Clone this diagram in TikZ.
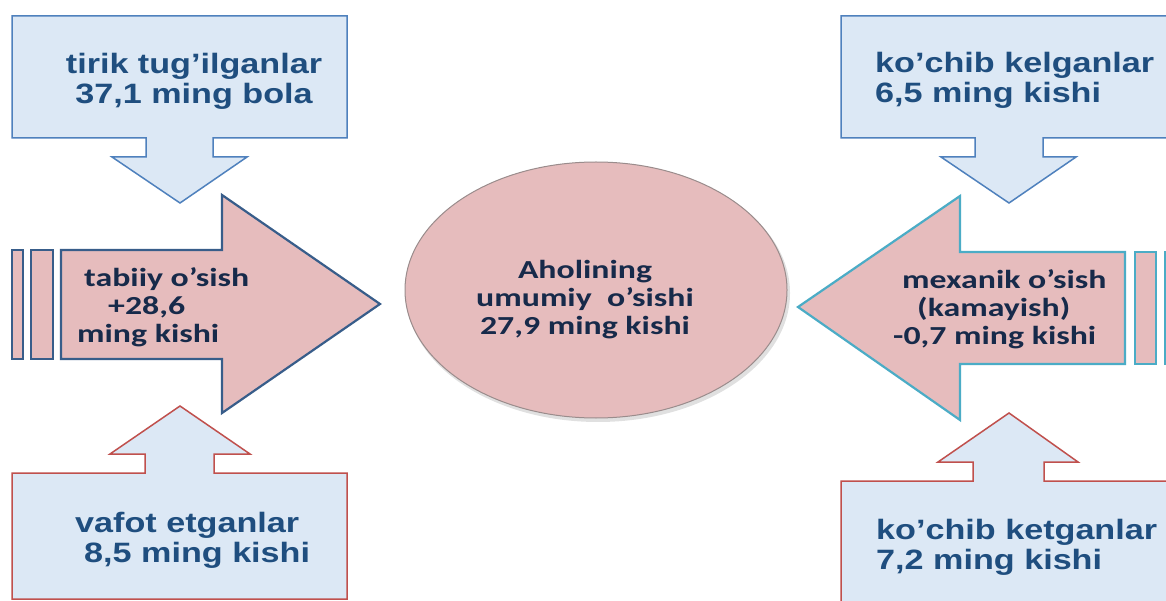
\documentclass[tikz,border=0pt]{standalone}
\usepackage{fontspec}
\setmainfont{Liberation Sans}
\newfontfamily\carl{Carlito}
\usepackage{graphicx}
\definecolor{calloutfill}{HTML}{DCE8F5}
\definecolor{bluestroke}{HTML}{4F81BD}
\definecolor{redstroke}{HTML}{C0504D}
\definecolor{pinkfill}{HTML}{E6BCBD}
\definecolor{darkblue}{HTML}{385D8A}
\definecolor{aqua}{HTML}{4BACC6}
\definecolor{txtblue}{HTML}{1F4E7F}
\definecolor{txtnavy}{HTML}{172A4A}
\definecolor{ellborder}{HTML}{9A8C8C}
\newcommand{\sx}[1]{\scalebox{1.22}[1]{#1}}
\newcommand{\sy}[1]{\scalebox{1.3}[1]{#1}}
\tikzset{
  callout/.style={fill=calloutfill, line width=1.5pt, line join=miter},
  pinkarrow/.style={fill=pinkfill, line width=2.2pt, line join=miter},
  ctext/.style={font=\fontsize{28}{30}\selectfont\bfseries, text=txtblue, inner sep=0pt},
  atext/.style={font=\carl\bfseries\fontsize{26}{28}\selectfont, text=txtnavy, inner sep=0pt}
}
\begin{document}
\begin{tikzpicture}[x=1pt,y=-1pt]
\useasboundingbox (0,0) rectangle (1166,601);
\fill[white] (0,0) rectangle (1166,601);
\clip (0,0) rectangle (1166,601);

% callouts
\draw[callout, draw=bluestroke] (12,16) -- (347,16) -- (347,138) -- (213,138) -- (213,157) -- (247,157) -- (180,203) -- (112,157) -- (146,157) -- (146,138) -- (12,138) -- cycle;
\draw[callout, draw=redstroke] (12,599) -- (12,473) -- (145,473) -- (145,454) -- (110,454) -- (180,406) -- (250,454) -- (214,454) -- (214,473) -- (347,473) -- (347,599) -- cycle;
\draw[callout, draw=bluestroke] (1200,138) -- (1200,16) -- (841,16) -- (841,138) -- (975,138) -- (975,157) -- (941,157) -- (1009,203) -- (1076,157) -- (1043,157) -- (1043,138) -- cycle;
\draw[callout, draw=redstroke] (841,620) -- (841,481) -- (973,481) -- (973,462) -- (938,462) -- (1009,413) -- (1078,462) -- (1044,462) -- (1044,481) -- (1200,481) -- (1200,620) -- cycle;

% left arrow
\draw[pinkarrow, draw=darkblue] (12,250) rectangle (23,359);
\draw[pinkarrow, draw=darkblue] (31,250) rectangle (53,359);
\draw[pinkarrow, draw=darkblue] (61,250) -- (222,250) -- (222,195) -- (380,304) -- (222,413) -- (222,359) -- (61,359) -- cycle;

% right arrow
\draw[pinkarrow, draw=aqua] (1125,252) -- (960,252) -- (960,196) -- (798,307) -- (960,420) -- (960,364) -- (1125,364) -- cycle;
\draw[pinkarrow, draw=aqua] (1135,252) rectangle (1156,364);
\draw[pinkarrow, draw=aqua] (1165,252) rectangle (1185,364);

% ellipse
\fill[black, opacity=0.12] (598,293) ellipse [x radius=192, y radius=129];
\draw[fill=pinkfill, draw=ellborder, line width=1pt] (596,290) ellipse [x radius=191, y radius=128];

% texts
\node[ctext, align=center] (tl) at (194,81) {\sx{tirik tug’ilganlar}\\\sx{37,1 ming bola}};
\node[ctext, align=left, anchor=west] (bl) at (75,540) {\sx{vafot etganlar}\\\hspace*{9pt}\sx{8,5 ming kishi}};
\node[ctext, align=left, anchor=west] (tr) at (875,80) {\sx{ko’chib kelganlar}\\\sx{6,5 ming kishi}};
\node[ctext, align=left, anchor=west] (br) at (876,547) {\sx{ko’chib ketganlar}\\\sx{7,2 ming kishi}};

\node[atext, align=left, anchor=west] (la) at (77,307) {\hspace*{7pt}\sy{tabiiy o’sish}\\\hspace*{31pt}\sy{+28,6}\\\sy{ming kishi}};
\node[atext, align=left, anchor=west] (ra) at (893,309) {\hspace*{9pt}\sy{mexanik o’sish}\\\hspace*{24pt}\sy{(kamayish)}\\\sy{-0,7 ming kishi}};
\node[atext, align=center] (el) at (585,300) {\sy{Aholining}\\\sy{umumiy\ \ o’sishi}\\\sy{27,9 ming kishi}};
\end{tikzpicture}
\end{document}
